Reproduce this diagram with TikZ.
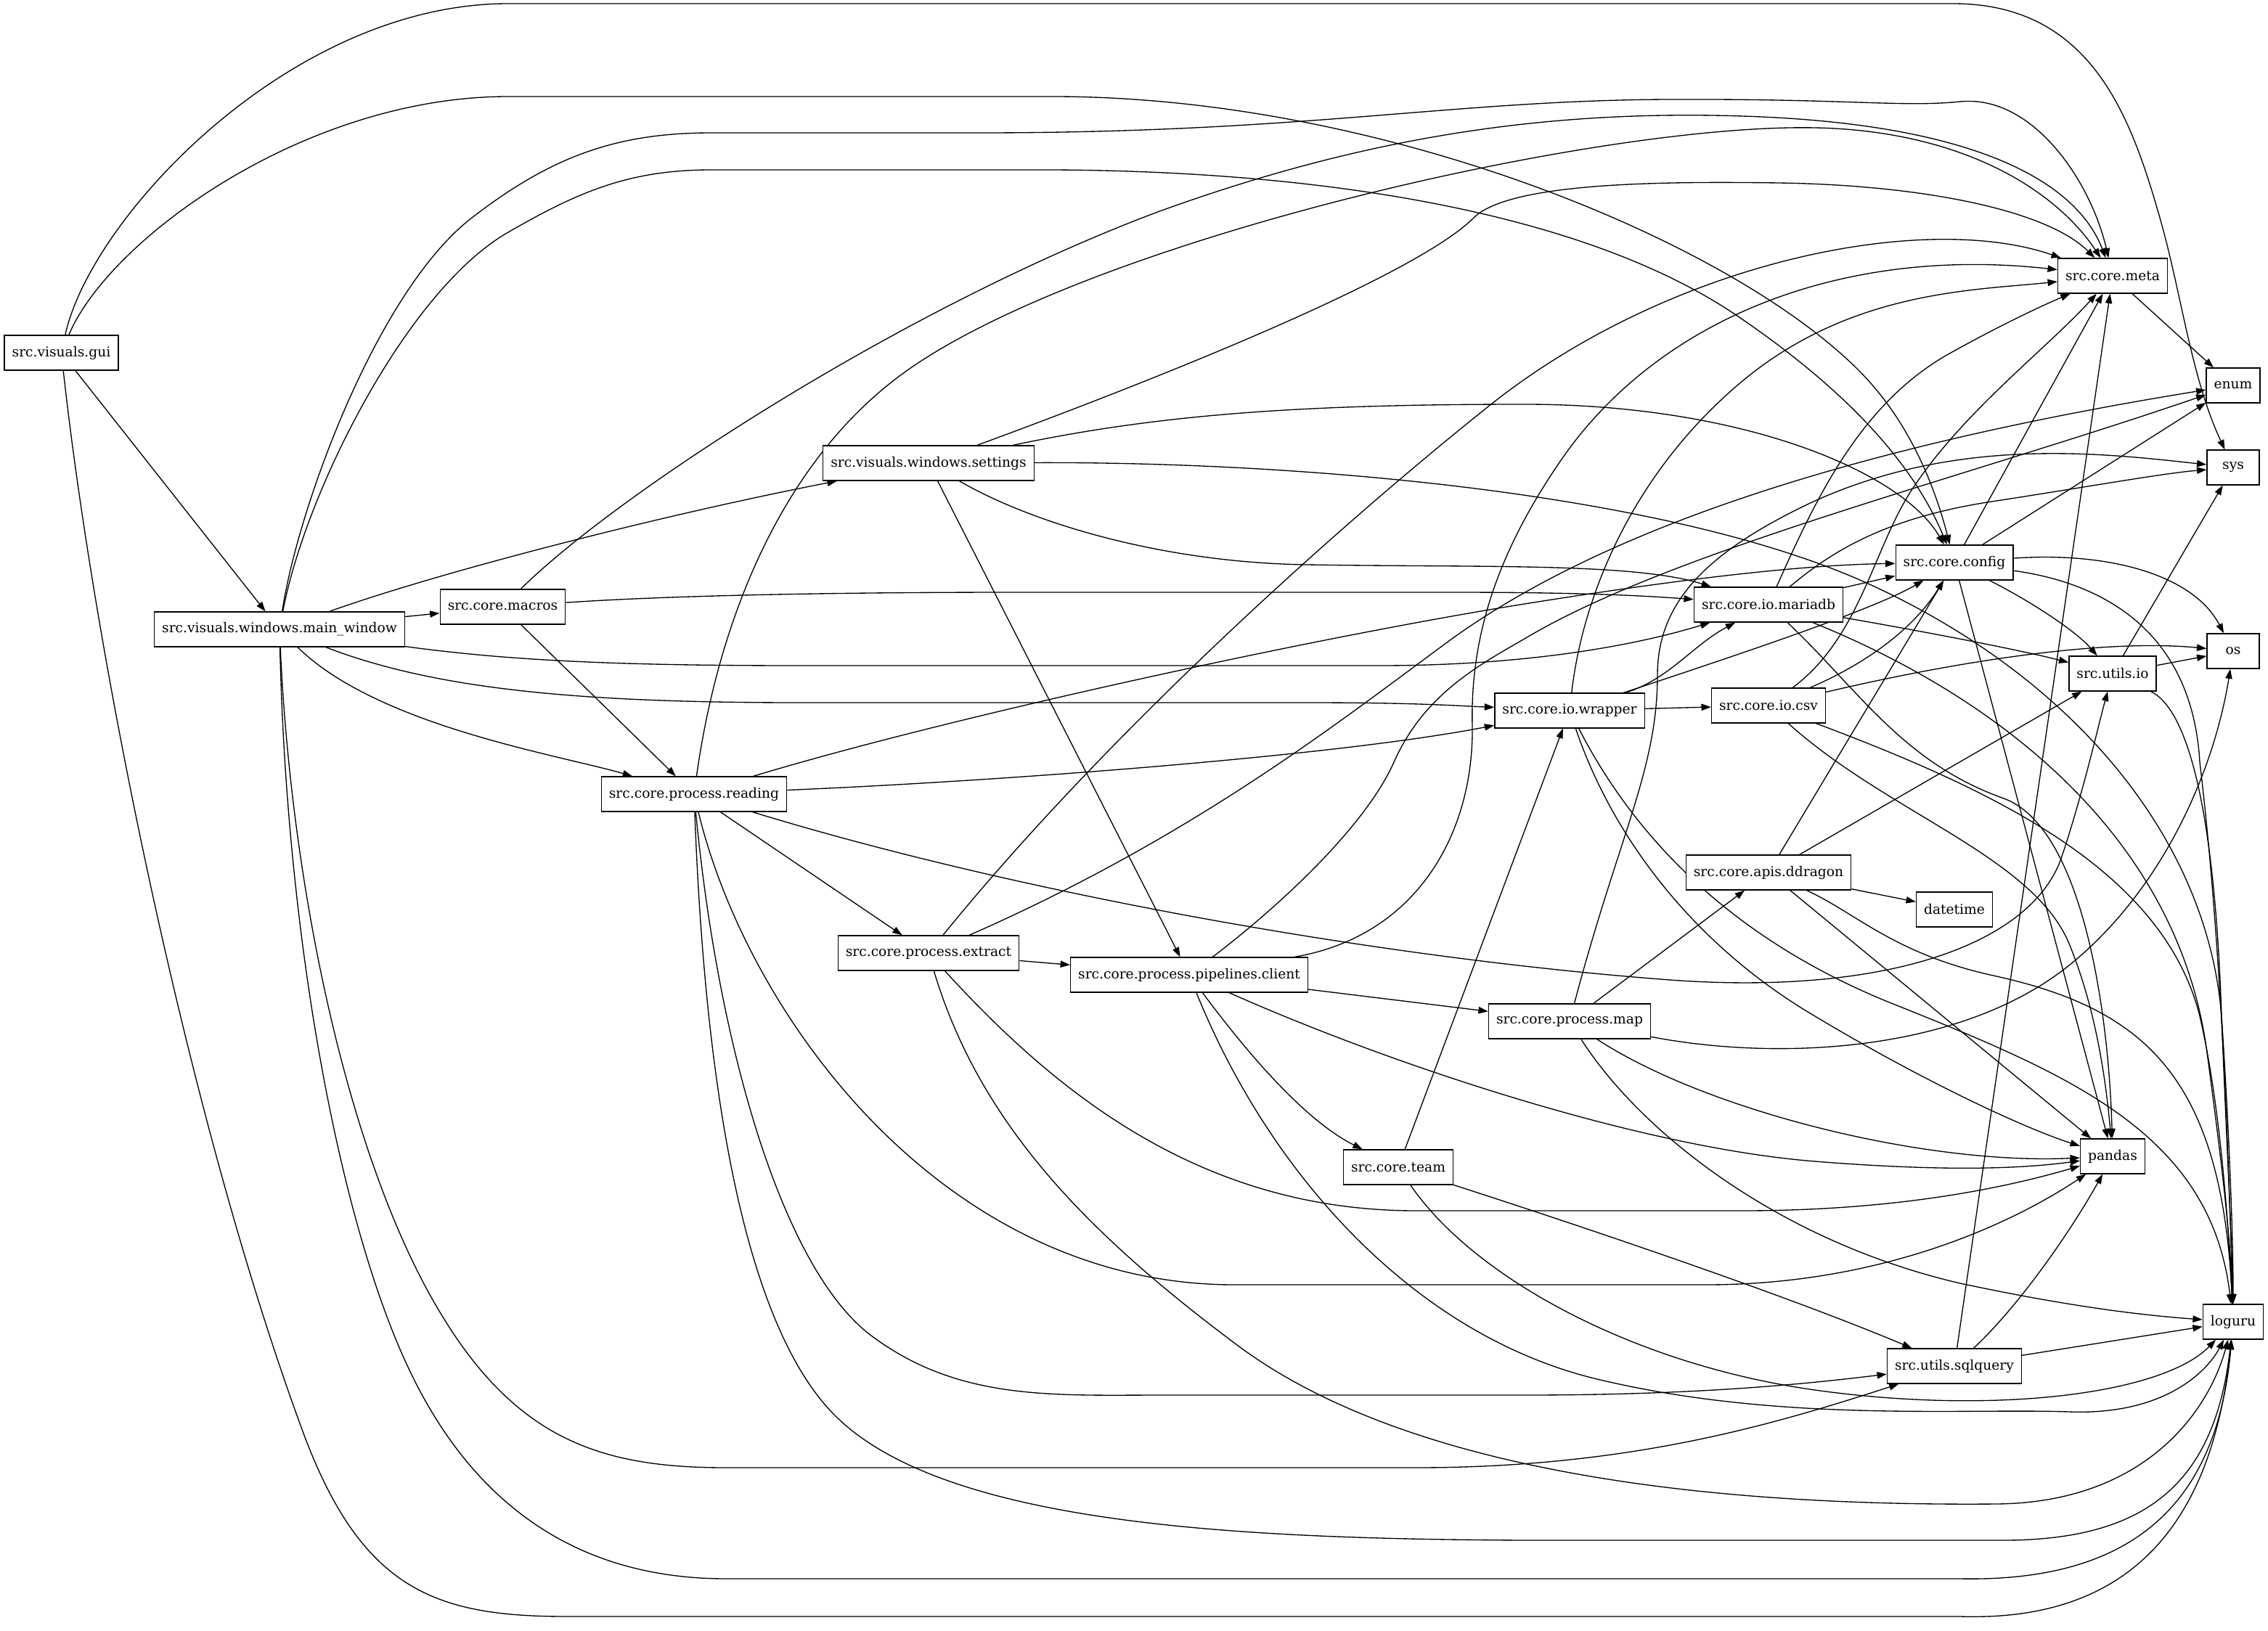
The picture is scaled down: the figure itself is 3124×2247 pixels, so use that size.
\documentclass[tikz,border=0pt]{standalone}
\usepackage{fontspec}
\setmainfont{DejaVu Serif}
\usetikzlibrary{arrows.meta}
\pgfdeclarelayer{bg}
\pgfdeclarelayer{edges}
\pgfsetlayers{bg,edges,main}
\begin{document}
\begin{tikzpicture}[x=0.75pt,y=-0.75pt,
  mod/.style={draw,fill=white,line width=1pt,rectangle,minimum height=36pt,minimum width=54pt,
    inner xsep=7.92pt,inner ysep=0pt,font=\fontsize{14pt}{16.8pt}\selectfont},
  e/.style={draw,line width=1pt,-{Triangle[length=10pt,width=7pt]}}]
\begin{pgfonlayer}{bg}
\path[use as bounding box,fill=white] (0,0) rectangle (3124,2247);
\end{pgfonlayer}

\node[mod] (gui) at (84.5,486) {src.visuals.gui};
\node[mod] (mw) at (385,867) {src.visuals.windows.main\_window};
\node[mod] (macros) at (692.5,836) {src.core.macros};
\node[mod] (settings) at (1279,638) {src.visuals.windows.settings};
\node[mod] (reading) at (956,1094) {src.core.process.reading};
\node[mod] (extract) at (1279,1313) {src.core.process.extract};
\node[mod] (pipe) at (1638,1343) {src.core.process.pipelines.client};
\node[mod] (team) at (1926,1608) {src.core.team};
\node[mod] (wrapper) at (2162,979) {src.core.io.wrapper};
\node[mod] (map) at (2162,1407) {src.core.process.map};
\node[mod] (csv) at (2436,972) {src.core.io.csv};
\node[mod] (mariadb) at (2436,833) {src.core.io.mariadb};
\node[mod] (ddragon) at (2436,1202) {src.core.apis.ddragon};
\node[mod] (config) at (2692,775) {src.core.config};
\node[mod] (datetime) at (2692,1253) {datetime};
\node[mod] (sqlquery) at (2692,1882) {src.utils.sqlquery};
\node[mod] (meta) at (2910,380) {src.core.meta};
\node[mod] (utilsio) at (2910,928) {src.utils.io};
\node[mod] (pandas) at (2910,1593) {pandas};
\node[mod] (enum) at (3076,531) {enum};
\node[mod] (sys) at (3076,644) {sys};
\node[mod] (os) at (3076,897) {os};
\node[mod] (loguru) at (3076,1821) {loguru};

\begin{pgfonlayer}{edges}
% gui
\draw[e] (gui) -- (mw);
\draw[e] (gui) .. controls (125,300) and (400,5) .. (700,5) -- (2690,5) .. controls (2880,5) and (2935,160) .. (2975,300) .. controls (3005,405) and (3018,520) .. (sys);
\draw[e] (gui) .. controls (150,330) and (420,133) .. (700,133) -- (1450,133) .. controls (1900,133) and (2380,330) .. (2560,510) .. controls (2630,580) and (2665,670) .. (config);
\draw[e] (gui) .. controls (130,900) and (260,1550) .. (420,1980) .. controls (500,2190) and (600,2227) .. (780,2227) -- (2700,2227) .. controls (2950,2235) and (3050,2080) .. (loguru);
% main window
\draw[e] (mw) .. controls (600,790) and (900,712) .. (settings);
\draw[e] (mw) -- (macros);
\draw[e] (mw) .. controls (520,1000) and (770,1040) .. (reading);
\draw[e] (mw) .. controls (600,950) and (800,968) .. (1100,968) -- (1800,968) .. controls (1950,968) and (2000,972) .. (wrapper);
\draw[e] (mw) .. controls (700,910) and (850,917) .. (1100,917) -- (1900,917) .. controls (2100,917) and (2250,890) .. (mariadb);
\draw[e] (mw) .. controls (400,1200) and (470,1560) .. (590,1780) .. controls (700,1980) and (820,2022) .. (1000,2022) -- (1950,2022) .. controls (2250,2022) and (2450,1960) .. (sqlquery);
\draw[e] (mw) .. controls (395,1300) and (470,1700) .. (570,1900) .. controls (680,2120) and (850,2175) .. (1000,2175) -- (2700,2175) .. controls (2950,2180) and (3055,2060) .. (loguru);
\draw[e] (mw) .. controls (410,700) and (520,400) .. (650,300) .. controls (760,215) and (850,183) .. (980,183) -- (1350,183) .. controls (1800,183) and (2000,138) .. (2300,137) .. controls (2550,136) and (2620,148) .. (2700,140) .. controls (2800,130) and (2880,250) .. (meta);
\draw[e] (mw) .. controls (420,680) and (560,400) .. (700,320) .. controls (800,262) and (870,234) .. (980,234) -- (1450,234) .. controls (1850,236) and (2200,300) .. (2400,440) .. controls (2560,550) and (2640,650) .. (config);
% macros
\draw[e] (macros) .. controls (850,680) and (1250,420) .. (1600,290) .. controls (1850,200) and (2100,150) .. (2400,160) .. controls (2720,170) and (2860,250) .. (meta);
\draw[e] (macros) .. controls (900,822) and (1100,816) .. (1400,816) -- (2000,816) .. controls (2200,816) and (2280,822) .. (mariadb);
\draw[e] (macros) -- (reading);
% settings
\draw[e] (settings) .. controls (1600,520) and (1950,380) .. (2030,300) .. controls (2080,250) and (2300,250) .. (2450,252) .. controls (2650,255) and (2820,290) .. (meta);
\draw[e] (settings) .. controls (1600,570) and (1800,557) .. (2100,557) .. controls (2400,557) and (2620,650) .. (config);
\draw[e] (settings) .. controls (1800,636) and (2300,680) .. (2573,804) .. controls (2850,930) and (3040,1150) .. (3060,1400) .. controls (3070,1550) and (3076,1700) .. (loguru);
\draw[e] (settings) -- (pipe);
\draw[e] (settings) .. controls (1420,720) and (1600,775) .. (1800,778) .. controls (2050,782) and (2250,775) .. (mariadb);
% reading
\draw[e] (reading) .. controls (990,850) and (1080,630) .. (1250,510) .. controls (1505,330) and (2200,170) .. (2500,176) .. controls (2700,180) and (2830,260) .. (meta);
\draw[e] (reading) .. controls (1300,990) and (1800,880) .. (2100,832) .. controls (2350,792) and (2500,778) .. (config);
\draw[e] (reading) .. controls (1400,1075) and (1850,1040) .. (wrapper);
\draw[e] (reading) .. controls (1400,1230) and (1900,1320) .. (2300,1350) .. controls (2600,1372) and (2800,1300) .. (2840,1180) .. controls (2870,1090) and (2890,1000) .. (utilsio);
\draw[e] (reading) -- (extract);
\draw[e] (reading) .. controls (1030,1400) and (1300,1770) .. (1700,1770) -- (2350,1770) .. controls (2600,1770) and (2780,1680) .. (pandas);
\draw[e] (reading) .. controls (990,1450) and (1080,1750) .. (1200,1840) .. controls (1320,1930) and (1450,1922) .. (1600,1922) -- (2100,1922) .. controls (2350,1922) and (2500,1905) .. (sqlquery);
\draw[e] (reading) .. controls (975,1600) and (1050,1850) .. (1150,1950) .. controls (1300,2100) and (1700,2120) .. (2100,2122) -- (2750,2122) .. controls (2950,2124) and (3050,2050) .. (loguru);
% extract
\draw[e] (extract) .. controls (1500,1040) and (1800,760) .. (2050,560) .. controls (2300,360) and (2650,290) .. (meta);
\draw[e] (extract) .. controls (1650,1150) and (1850,990) .. (2000,880) .. controls (2250,700) and (2650,600) .. (enum);
\draw[e] (extract) -- (pipe);
\draw[e] (extract) .. controls (1450,1500) and (1650,1668) .. (1950,1668) -- (2400,1668) .. controls (2600,1668) and (2750,1640) .. (pandas);
\draw[e] (extract) .. controls (1350,1550) and (1500,1700) .. (1700,1850) .. controls (1950,2040) and (2400,2075) .. (2750,2072) .. controls (2950,2070) and (3040,1950) .. (loguru);
% pipelines
\draw[e] (pipe) -- (map);
\draw[e] (pipe) .. controls (1740,1480) and (1810,1550) .. (team);
\draw[e] (pipe) .. controls (1950,1290) and (2030,1150) .. (2028,1000) .. controls (2025,880) and (2060,760) .. (2160,620) .. controls (2300,430) and (2550,340) .. (meta);
\draw[e] (pipe) .. controls (1760,1250) and (1880,1140) .. (1920,1050) .. controls (1960,960) and (2030,920) .. (2100,880) .. controls (2300,760) and (2700,660) .. (enum);
\draw[e] (pipe) .. controls (1900,1460) and (2250,1580) .. (2500,1600) .. controls (2700,1616) and (2800,1608) .. (pandas);
\draw[e] (pipe) .. controls (1750,1620) and (1950,1840) .. (2200,1900) .. controls (2450,1960) and (2700,1940) .. (2850,1945) .. controls (2980,1950) and (3040,1890) .. (loguru);
% team
\draw[e] (team) -- (wrapper);
\draw[e] (team) .. controls (2150,1680) and (2450,1780) .. (sqlquery);
\draw[e] (team) .. controls (2030,1760) and (2250,1880) .. (2500,1915) .. controls (2750,1950) and (2980,1920) .. (loguru);
% wrapper
\draw[e] (wrapper) -- (csv);
\draw[e] (wrapper) .. controls (2300,935) and (2330,890) .. (mariadb);
\draw[e] (wrapper) .. controls (2400,900) and (2580,840) .. (config);
\draw[e] (wrapper) .. controls (2180,820) and (2250,650) .. (2400,525) .. controls (2550,400) and (2720,400) .. (meta);
\draw[e] (wrapper) .. controls (2220,1150) and (2330,1300) .. (2500,1400) .. controls (2650,1490) and (2790,1555) .. (pandas);
\draw[e] (wrapper) .. controls (2250,1150) and (2380,1290) .. (2600,1380) .. controls (2850,1480) and (3045,1560) .. (loguru);
% map
\draw[e] (map) .. controls (2230,1150) and (2283,1060) .. (2283,930) .. controls (2283,830) and (2350,760) .. (2500,690) .. controls (2700,600) and (2900,625) .. (sys);
\draw[e] (map) -- (ddragon);
\draw[e] (map) .. controls (2450,1462) and (2700,1450) .. (2850,1330) .. controls (2980,1225) and (3050,1060) .. (os);
\draw[e] (map) .. controls (2260,1560) and (2450,1710) .. (2700,1768) .. controls (2850,1800) and (2950,1812) .. (loguru);
\draw[e] (map) .. controls (2350,1530) and (2650,1605) .. (pandas);
% csv
\draw[e] (csv) .. controls (2580,910) and (2640,860) .. (config);
\draw[e] (csv) .. controls (2560,880) and (2580,760) .. (2630,680) .. controls (2700,570) and (2820,480) .. (meta);
\draw[e] (csv) .. controls (2700,910) and (2900,880) .. (os);
\draw[e] (csv) .. controls (2600,1120) and (2800,1180) .. (2850,1300) .. controls (2885,1385) and (2900,1480) .. (pandas);
\draw[e] (csv) .. controls (2750,1090) and (2980,1200) .. (3030,1400) .. controls (3060,1530) and (3070,1700) .. (loguru);
% mariadb
\draw[e] (mariadb) -- (config);
\draw[e] (mariadb) .. controls (2500,690) and (2560,560) .. (2680,490) .. controls (2760,445) and (2820,418) .. (meta);
\draw[e] (mariadb) .. controls (2525,758) and (2600,712) .. (2750,690) .. controls (2880,670) and (2980,652) .. (sys);
\draw[e] (mariadb) .. controls (2650,870) and (2780,895) .. (utilsio);
\draw[e] (mariadb) .. controls (2560,950) and (2620,1050) .. (2760,1100) .. controls (2870,1140) and (2905,1400) .. (pandas);
\draw[e] (mariadb) .. controls (2750,960) and (3000,1150) .. (3040,1450) .. controls (3060,1600) and (3072,1700) .. (loguru);
% ddragon
\draw[e] (ddragon) -- (datetime);
\draw[e] (ddragon) -- (config);
\draw[e] (ddragon) -- (utilsio);
\draw[e] (ddragon) -- (pandas);
\draw[e] (ddragon) .. controls (2560,1260) and (2610,1315) .. (2750,1345) .. controls (2950,1390) and (3060,1480) .. (loguru);
% config
\draw[e] (config) -- (meta);
\draw[e] (config) -- (enum);
\draw[e] (config) .. controls (2900,760) and (3020,790) .. (os);
\draw[e] (config) .. controls (2910,805) and (3020,880) .. (3030,1050) .. controls (3060,1300) and (3070,1600) .. (loguru);
\draw[e] (config) .. controls (2800,830) and (2860,870) .. (utilsio);
\draw[e] (config) -- (pandas);
% meta
\draw[e] (meta) -- (enum);
% utils.io
\draw[e] (utilsio) -- (sys);
\draw[e] (utilsio) -- (os);
\draw[e] (utilsio) .. controls (3010,975) and (3050,1100) .. (3060,1400) .. controls (3068,1600) and (3074,1700) .. (loguru);
% sqlquery
\draw[e] (sqlquery) -- (meta);
\draw[e] (sqlquery) .. controls (2780,1800) and (2850,1700) .. (pandas);
\draw[e] (sqlquery) -- (loguru);
\end{pgfonlayer}
\end{tikzpicture}
\end{document}
